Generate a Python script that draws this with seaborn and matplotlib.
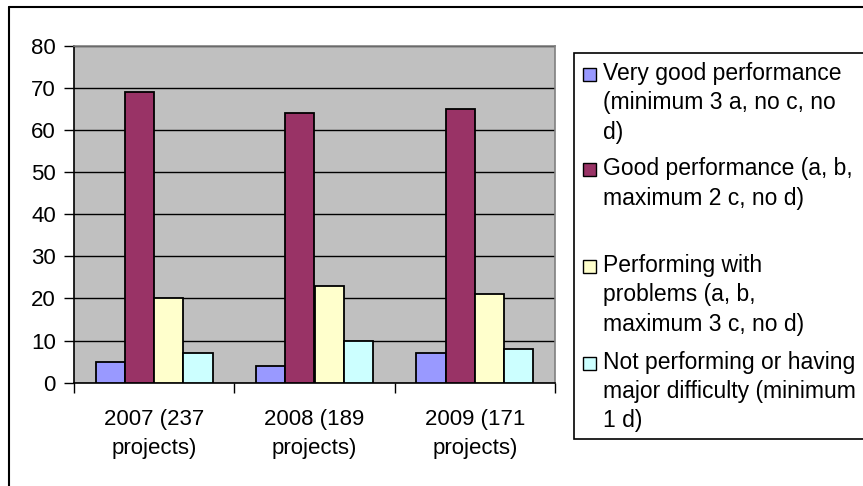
import matplotlib
matplotlib.use("Agg")
import matplotlib.pyplot as plt
from matplotlib.patches import Rectangle
from matplotlib.lines import Line2D
import seaborn as sns
import pandas as pd

categories = ["2007 (237\nprojects)", "2008 (189\nprojects)", "2009 (171\nprojects)"]
series = [
    "Very good performance\n(minimum 3 a, no c, no\nd)",
    "Good performance (a, b,\nmaximum 2 c, no d)",
    "Performing with\nproblems (a, b,\nmaximum 3 c, no d)",
    "Not performing or having\nmajor difficulty (minimum\n1 d)",
]
very_good = [5, 4, 7]
good = [69, 64, 65]
problems = [20, 23, 21]
not_performing = [7, 10, 8]
colors = ["#9999FF", "#993366", "#FFFFCC", "#CCFFFF"]
yticks = [0, 10, 20, 30, 40, 50, 60, 70, 80]

values = [very_good, good, problems, not_performing]
rows = []
for s, vals in zip(series, values):
    for c, v in zip(categories, vals):
        rows.append({"category": c, "series": s, "value": v})
df = pd.DataFrame(rows)

sns.set_theme(style="white")
plt.rcParams["font.family"] = ["Liberation Sans", "DejaVu Sans"]

W, H = 863, 486
fig = plt.figure(figsize=(W / 100, H / 100), dpi=100)
fig.patch.set_facecolor("white")

def fx(px):
    return px / W

def fy(py):
    return 1 - py / H

ax = fig.add_axes([fx(74), fy(382.7), fx(555) - fx(74), fy(45.7) - fy(382.7)])
sns.barplot(data=df, x="category", y="value", hue="series", palette=colors,
            saturation=1, width=0.73, gap=0, edgecolor="black", linewidth=1.3,
            legend=False, ax=ax, zorder=3)
ax.set_facecolor("#C0C0C0")
ax.set_ylim(0, 80)
ax.set_xlim(-0.5, 2.5)
ax.set_yticks(yticks)
ax.set_yticklabels([str(t) for t in yticks], fontsize=16)
ax.set_xticks([0, 1, 2])
ax.set_xticklabels(categories, fontsize=16, linespacing=1.5)
ax.set_xticks([-0.5, 0.5, 1.5, 2.5], minor=True)
ax.tick_params(axis="x", which="major", length=0, pad=19)
ax.tick_params(axis="x", which="minor", length=7, width=1, color="black", direction="out", bottom=True)
ax.tick_params(axis="y", length=7, width=1, color="black", direction="out", left=True, pad=6)
ax.set_xlabel("")
ax.set_ylabel("")
ax.grid(axis="y", color="black", linewidth=1, zorder=1)
ax.set_axisbelow(True)
for t in ax.get_yticklabels() + ax.get_xticklabels():
    t.set_color("black")
ax.spines["left"].set_color("black")
ax.spines["bottom"].set_color("black")
ax.spines["top"].set_color("#808080")
ax.spines["right"].set_color("#808080")
for sp in ax.spines.values():
    sp.set_linewidth(1.2)

# outer chart frame (left and top visible)
fig.add_artist(Line2D([fx(9), fx(9)], [fy(490), fy(7)], color="black", lw=1.5,
                      transform=fig.transFigure))
fig.add_artist(Line2D([fx(9), fx(870)], [fy(7), fy(7)], color="black", lw=1.5,
                      transform=fig.transFigure))

# legend
fig.add_artist(Rectangle((fx(574), fy(439)), fx(880) - fx(574), fy(53) - fy(439),
                         transform=fig.transFigure, facecolor="white",
                         edgecolor="black", lw=1.2, clip_on=False))
first_line_centers = [74, 169.5, 266, 362.5]
for s, col, yc in zip(series, colors, first_line_centers):
    fig.add_artist(Rectangle((fx(583), fy(yc + 7)), fx(596) - fx(583), fy(yc - 6) - fy(yc + 7),
                             transform=fig.transFigure, facecolor=col,
                             edgecolor="black", lw=1.0))
    fig.text(fx(603), fy(yc - 12), s, fontsize=16.5, va="top", ha="left",
             linespacing=1.36, color="black")

fig.savefig("out.png", dpi=100)
